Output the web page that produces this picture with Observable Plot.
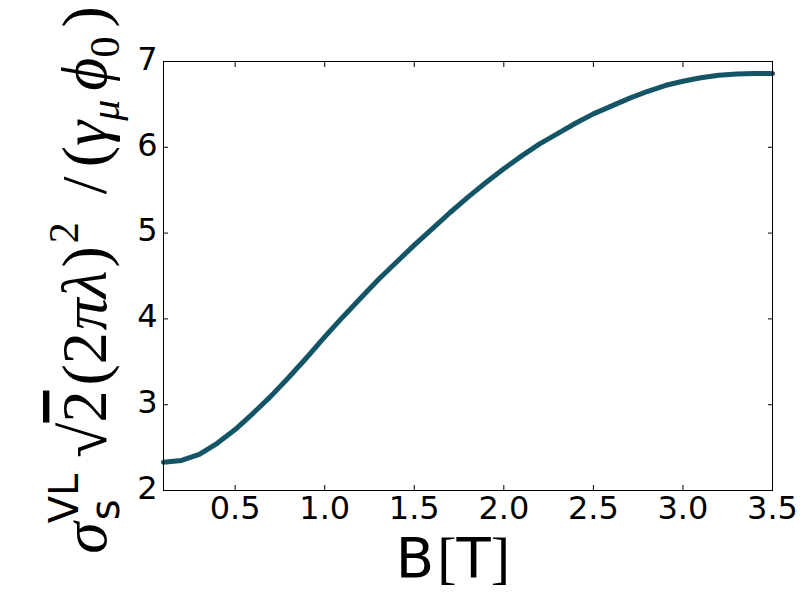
<!DOCTYPE html>
<html>
<head>
<meta charset="utf-8">
<script src="https://cdn.jsdelivr.net/npm/d3@7"></script>
<script src="https://cdn.jsdelivr.net/npm/@observablehq/plot@0.6"></script>
<style>
  html, body { margin: 0; padding: 0; background: white; }
  #chart { width: 812px; height: 612px; }
</style>
</head>
<body>
<div id="chart"></div>
<script>
// Field B [T]
const fieldB = [0.1, 0.2, 0.3, 0.4, 0.5, 0.6, 0.7, 0.8, 0.9, 1.0, 1.1, 1.2, 1.3, 1.4, 1.5, 1.6, 1.7, 1.8,
                1.9, 2.0, 2.1, 2.2, 2.3, 2.4, 2.5, 2.6, 2.7, 2.8, 2.9, 3.0, 3.1, 3.2, 3.3, 3.4, 3.5];
// Normalized sigma_s^VL
const sigmaVL = [2.33, 2.35, 2.42, 2.55, 2.71, 2.90, 3.10, 3.32, 3.55, 3.79, 4.02, 4.24, 4.46, 4.66, 4.86,
                 5.05, 5.24, 5.42, 5.59, 5.75, 5.90, 6.04, 6.16, 6.28, 6.39, 6.48, 6.57, 6.65, 6.72, 6.77,
                 6.81, 6.84, 6.855, 6.86, 6.86];
const xTicks = [0.5, 1.0, 1.5, 2.0, 2.5, 3.0, 3.5];
const yTicks = [2, 3, 4, 5, 6, 7];

const data = fieldB.map((b, i) => ({B: b, s: sigmaVL[i]}));

const chart = Plot.plot({
  width: 812,
  height: 612,
  marginLeft: 163,
  marginRight: 40,
  marginTop: 61,
  marginBottom: 122,
  x: {domain: [0.1, 3.5]},
  y: {domain: [2, 7]},
  style: {fontFamily: "DejaVu Sans", fontSize: "32px", background: "white", color: "black"},
  marks: [
    Plot.line(data, {x: "B", y: "s", stroke: "#135566", strokeWidth: 5}),
    Plot.frame({stroke: "black", strokeWidth: 1}),
    Plot.axisX(xTicks, {anchor: "bottom", tickSize: -5, tickFormat: () => "", label: null}),
    Plot.axisX(xTicks, {anchor: "top", tickSize: -5, tickFormat: () => "", label: null}),
    Plot.axisX(xTicks, {anchor: "bottom", tickSize: 0, tickPadding: 6, tickFormat: d => d.toFixed(1), fontSize: 32, label: null}),
    Plot.axisY(yTicks, {anchor: "left", tickSize: -5, tickFormat: () => "", label: null}),
    Plot.axisY(yTicks, {anchor: "right", tickSize: -5, tickFormat: () => "", label: null}),
    Plot.axisY(yTicks, {anchor: "left", tickSize: 0, tickPadding: 6, dy: -2, tickFormat: d => String(d), fontSize: 32, label: null})
  ]
});
document.getElementById("chart").appendChild(chart);

const svg = d3.select(chart);
const SERIF = "'Liberation Serif', 'DejaVu Serif', serif";
const SANS = "'DejaVu Sans', sans-serif";

// Rich text helper: parts = [text, family, size, shift(px, + is down), italic, dx, decoration]
function richText(sel, parts) {
  let cur = 0;
  for (const p of parts) {
    const [t, fam, size, shift, italic, dx, deco] = p;
    const ts = sel.append("tspan")
      .text(t)
      .attr("font-family", fam)
      .attr("font-size", size)
      .attr("dy", shift - cur);
    if (italic) ts.attr("font-style", "italic");
    if (dx) ts.attr("dx", dx);
    if (deco) ts.attr("text-decoration", deco);
    cur = shift;
  }
}

// x-axis label
const xl = svg.append("text")
  .attr("x", 453).attr("y", 577)
  .attr("text-anchor", "middle")
  .attr("fill", "black");
richText(xl, [
  ["B", SANS, 56, 0, false, 0],
  ["[", SERIF, 58, 0, false, 3],
  ["T", SANS, 56, 0, false, 0],
  ["]", SERIF, 58, 0, false, 0]
]);

// y-axis label
const yl = svg.append("text")
  .attr("transform", "translate(106,280) rotate(-90)")
  .attr("text-anchor", "middle")
  .attr("fill", "black");
richText(yl, [
  ["σ", SERIF, 64, 0, true, 0],
  ["s", SANS, 40, 13, false, 2],
  ["VL", SANS, 40, -28, false, -24],
  ["√", SERIF, 64, 0, false, 16],
  ["2", SERIF, 64, 0, false, 0, "overline"],
  ["(", SERIF, 64, 0, false, 5],
  ["2", SERIF, 64, 0, false, 0],
  ["πλ", SERIF, 64, 0, true, 2],
  [")", SERIF, 64, 0, false, 3],
  ["2", SERIF, 42, -28, false, 3],
  ["/", SERIF, 64, 0, false, 28],
  ["(", SERIF, 64, 0, false, 9],
  ["γ", SERIF, 64, 0, true, 0],
  ["μ", SERIF, 42, 13, true, 0],
  ["ϕ", SERIF, 64, 0, true, 9],
  ["0", SERIF, 42, 13, false, 0],
  [")", SERIF, 64, 0, false, 9]
]);
</script>
</body>
</html>
